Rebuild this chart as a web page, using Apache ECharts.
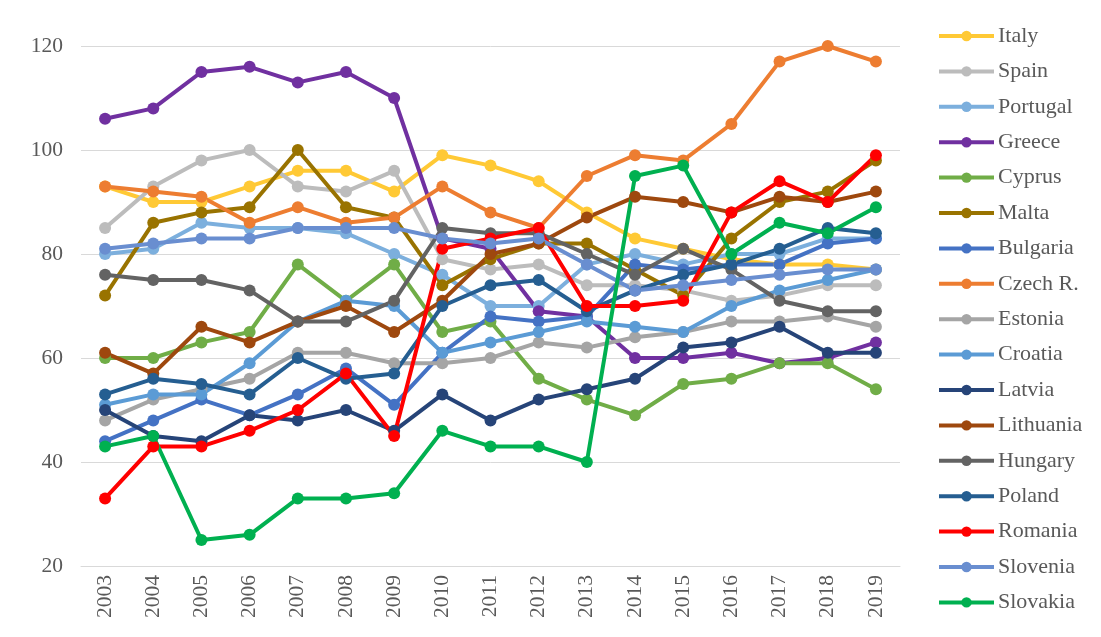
<!DOCTYPE html>
<html>
<head>
<meta charset="utf-8">
<script src="https://cdn.jsdelivr.net/npm/echarts@6/dist/echarts.min.js"></script>
<style>
  html, body { margin: 0; padding: 0; background: #fff; }
  #chart { width: 1101px; height: 637px; }
</style>
</head>
<body>
<div id="chart"></div>
<script>
// Years on the category axis
const years = ['2003','2004','2005','2006','2007','2008','2009','2010','2011','2012','2013','2014','2015','2016','2017','2018','2019'];

// Values per country, 2003–2019
const italy     = [93, 90, 90, 93, 96, 96, 92, 99, 97, 94, 88, 83, 81, 79, 78, 78, 77];
const spain     = [85, 93, 98, 100, 93, 92, 96, 79, 77, 78, 74, 74, 73, 71, 72, 74, 74];
const portugal  = [80, 81, 86, 85, 85, 84, 80, 76, 70, 70, 78, 80, 78, 80, 80, 83, 83];
const greece    = [106, 108, 115, 116, 113, 115, 110, 83, 81, 69, 68, 60, 60, 61, 59, 60, 63];
const cyprus    = [60, 60, 63, 65, 78, 71, 78, 65, 67, 56, 52, 49, 55, 56, 59, 59, 54];
const malta     = [72, 86, 88, 89, 100, 89, 87, 74, 79, 82, 82, 77, 72, 83, 90, 92, 98];
const bulgaria  = [44, 48, 52, 49, 53, 58, 51, 61, 68, 67, 68, 78, 77, 78, 78, 82, 83];
const czech     = [93, 92, 91, 86, 89, 86, 87, 93, 88, 85, 95, 99, 98, 105, 117, 120, 117];
const estonia   = [48, 52, 54, 56, 61, 61, 59, 59, 60, 63, 62, 64, 65, 67, 67, 68, 66];
const croatia   = [51, 53, 53, 59, 67, 71, 70, 61, 63, 65, 67, 66, 65, 70, 73, 75, 77];
const latvia    = [50, 45, 44, 49, 48, 50, 46, 53, 48, 52, 54, 56, 62, 63, 66, 61, 61];
const lithuania = [61, 57, 66, 63, 67, 70, 65, 71, 80, 82, 87, 91, 90, 88, 91, 90, 92];
const hungary   = [76, 75, 75, 73, 67, 67, 71, 85, 84, 84, 80, 76, 81, 77, 71, 69, 69];
const poland    = [53, 56, 55, 53, 60, 56, 57, 70, 74, 75, 69, 73, 76, 78, 81, 85, 84];
const romania   = [33, 43, 43, 46, 50, 57, 45, 81, 83, 85, 70, 70, 71, 88, 94, 90, 99];
const slovenia  = [81, 82, 83, 83, 85, 85, 85, 83, 82, 83, 78, 73, 74, 75, 76, 77, 77];
const slovakia  = [43, 45, 25, 26, 33, 33, 34, 46, 43, 43, 40, 95, 97, 80, 86, 84, 89];

// Y axis range
const yMin = 20, yMax = 120, yStep = 20;

const countries = [
  { name: 'Italy',     data: italy,     color: '#FFC935' },
  { name: 'Spain',     data: spain,     color: '#BCBCBC' },
  { name: 'Portugal',  data: portugal,  color: '#7CAFDD' },
  { name: 'Greece',    data: greece,    color: '#7030A0' },
  { name: 'Cyprus',    data: cyprus,    color: '#70AD47' },
  { name: 'Malta',     data: malta,     color: '#997300' },
  { name: 'Bulgaria',  data: bulgaria,  color: '#4472C4' },
  { name: 'Czech R.',  data: czech,     color: '#ED7D31' },
  { name: 'Estonia',   data: estonia,   color: '#A5A5A5' },
  { name: 'Croatia',   data: croatia,   color: '#5B9BD5' },
  { name: 'Latvia',    data: latvia,    color: '#264478' },
  { name: 'Lithuania', data: lithuania, color: '#9E480E' },
  { name: 'Hungary',   data: hungary,   color: '#636363' },
  { name: 'Poland',    data: poland,    color: '#255E91' },
  { name: 'Romania',   data: romania,   color: '#FF0000' },
  { name: 'Slovenia',  data: slovenia,  color: '#698ED0' },
  { name: 'Slovakia',  data: slovakia,  color: '#00B050' }
];

const serif = '"Liberation Serif", "DejaVu Serif", serif';
const textColor = '#595959';

const chart = echarts.init(document.getElementById('chart'), null, { renderer: 'canvas' });

chart.setOption({
  animation: false,
  backgroundColor: '#ffffff',
  grid: { left: 81, right: 201, top: 46, bottom: 71, containLabel: false },
  legend: {
    orient: 'vertical',
    left: 932,
    top: 20,
    itemWidth: 55,
    itemHeight: 13,
    itemGap: 13.4,
    selectedMode: false,
    lineStyle: { width: 4 },
    textStyle: { fontFamily: serif, fontSize: 22, color: textColor, padding: [0, 0, 0, -1] },
    data: countries.map(c => c.name)
  },
  xAxis: {
    type: 'category',
    data: years,
    boundaryGap: true,
    axisLine: { show: true, lineStyle: { color: '#D9D9D9', width: 1 } },
    axisTick: { show: false },
    axisLabel: {
      rotate: 90,
      margin: 9,
      fontFamily: serif,
      fontSize: 21.5,
      color: textColor,
      interval: 0
    }
  },
  yAxis: {
    type: 'value',
    min: yMin,
    max: yMax,
    interval: yStep,
    axisLine: { show: false },
    axisTick: { show: false },
    splitLine: { lineStyle: { color: '#D9D9D9', width: 1 } },
    axisLabel: {
      margin: 18,
      fontFamily: serif,
      fontSize: 21.5,
      color: textColor
    }
  },
  series: countries.map(c => ({
    name: c.name,
    type: 'line',
    data: c.data,
    symbol: 'circle',
    symbolSize: 12,
    showSymbol: true,
    lineStyle: { color: c.color, width: 4 },
    itemStyle: { color: c.color },
    emphasis: { disabled: true },
    z: 2
  }))
});
</script>
</body>
</html>
